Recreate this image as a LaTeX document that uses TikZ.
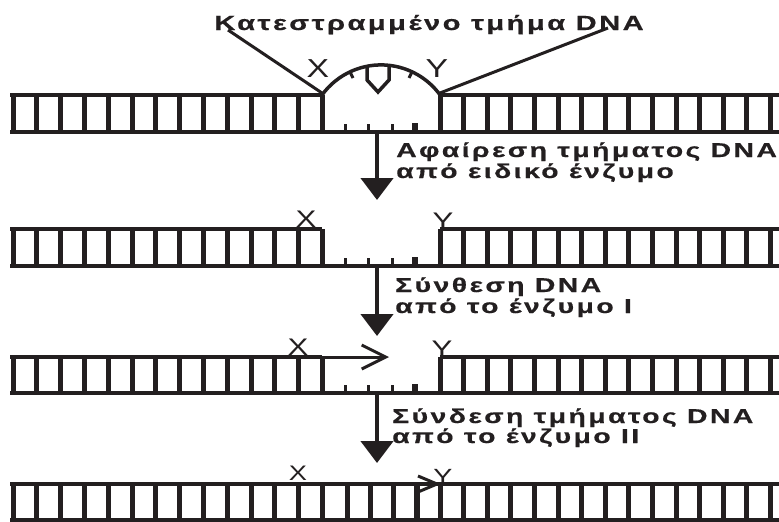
\documentclass[tikz,border=0pt]{standalone}
\usepackage{fontspec}
\setmainfont{Liberation Sans}
\newfontfamily\capfont{Liberation Sans}[UprightFont=* Bold, FakeStretch=1.42, LetterSpace=12, FakeBold=0.5]
\newfontfamily\markfont{Liberation Sans}[FakeStretch=1.3]
\usetikzlibrary{arrows.meta}
\definecolor{ink}{RGB}{35,31,32}

% rungs of a ladder between the strands at #1 (top) and #2 (bottom)
\newcommand\leftrungs[2]{\foreach \k in {0,...,13} \draw[rung] ({13+23.8*\k},#1) -- ({13+23.8*\k},#2);}
\newcommand\rightrungs[2]{\foreach \k in {0,...,14} \draw[rung] ({440+23.6*\k},#1) -- ({440+23.6*\k},#2);}
\newcommand\nicks[1]{%
  \foreach \x in {345,368,392} \draw[nick] (\x,#1) -- (\x,#1-8);
  \draw[nick, line width=5.5pt] (415,#1) -- (415,#1-9);}

\begin{document}
\begin{tikzpicture}[x=1pt, y=-1pt,
  strand/.style={draw=ink, line width=4.5pt},
  rung/.style={draw=ink, line width=5pt},
  nick/.style={draw=ink, line width=3pt},
  pointer/.style={draw=ink, line width=3pt},
  loop/.style={draw=ink, line width=3.5pt},
  stepflow/.style={draw=ink, line width=4.5pt, -{Triangle[length=22pt,width=32pt]}},
  newdna/.style={draw=ink, line width=3pt, -{Straight Barb[length=24pt,width=24pt]}},
  caption/.style={inner sep=0pt, text=ink, font=\capfont\fontsize{20}{22}\selectfont, anchor=base west},
  heading/.style={inner sep=0pt, text=ink, font=\capfont\fontsize{20.5}{23}\selectfont, anchor=base},
  endmark/.style={inner sep=0pt, text=ink, font=\markfont\fontsize{24}{26}\selectfont, anchor=base},
]
\useasboundingbox (0,0) rectangle (779,522);

% ---------- damaged DNA ----------
\draw[strand] (10,95) -- (322,95);
\draw[strand] (440,95) -- (779,95);
\draw[strand] (10,132) -- (779,132);
\leftrungs{95}{132}
\rightrungs{95}{132}
\nicks{132}
\draw[loop] (322,95) arc[start angle=216, end angle=324, radius=73];
\draw[nick] (350,72) -- (353,78);
\draw[nick] (412,72) -- (409,78);
\draw[loop] (367,66) -- (367,80) -- (378,92) -- (389,80) -- (389,66);
\node[heading] (title) at (429,30) {Κατεστραμμένο τμήμα DNA};
\coordinate (pl) at (228,30);
\coordinate (pr) at (608,28);
\coordinate (footl) at (322,93);
\coordinate (footr) at (440,93);
\draw[pointer] (pl) -- (footl);
\draw[pointer] (pr) -- (footr);
\node[endmark, font=\markfont\fontsize{26}{28}\selectfont] (x1) at (318,77) {X};
\node[endmark, font=\markfont\fontsize{26}{28}\selectfont] (y1) at (437,77) {Y};

% ---------- step 1 ----------
\coordinate (s1a) at (377,132);
\coordinate (s1b) at (377,200);
\draw[stepflow] (s1a) -- (s1b);
\node[caption] (c1a) at (396,157) {Αφαίρεση τμήματος DNA};
\node[caption] (c1b) at (396,178) {από ειδικό ένζυμο};

% ---------- gapped DNA ----------
\draw[strand] (10,229) -- (322,229);
\draw[strand] (440,229) -- (779,229);
\draw[strand] (10,266) -- (779,266);
\leftrungs{229}{266}
\rightrungs{229}{266}
\nicks{266}
\node[endmark] (x2) at (306,227) {X};
\node[endmark] (y2) at (443,229) {Y};

% ---------- step 2 ----------
\coordinate (s2a) at (377,266);
\coordinate (s2b) at (377,336);
\draw[stepflow] (s2a) -- (s2b);
\node[caption] (c2a) at (395,292) {Σύνθεση DNA};
\node[caption] (c2b) at (395,313) {από το ένζυμο I};

% ---------- gap being filled ----------
\draw[strand] (10,357) -- (322,357);
\draw[strand] (440,357) -- (779,357);
\draw[strand] (10,393) -- (779,393);
\leftrungs{357}{393}
\rightrungs{357}{393}
\nicks{393}
\coordinate (n3a) at (322,357);
\coordinate (n3b) at (389,357);
\draw[newdna] (n3a) -- (n3b);
\node[endmark] (x3) at (298,355) {X};
\node[endmark] (y3) at (442,357) {Y};

% ---------- step 3 ----------
\coordinate (s3a) at (377,393);
\coordinate (s3b) at (377,463);
\draw[stepflow] (s3a) -- (s3b);
\node[caption] (c3a) at (392,423) {Σύνδεση τμήματος DNA};
\node[caption] (c3b) at (392,443) {από το ένζυμο II};

% ---------- repaired DNA ----------
\draw[strand] (10,484) -- (779,484);
\draw[strand] (10,520) -- (779,520);
\leftrungs{484}{520}
\rightrungs{484}{520}
\foreach \x in {347,370,393} \draw[rung] (\x,484) -- (\x,520);
\draw[rung, line width=5.5pt] (417,484) -- (417,520);
\draw[draw=ink, line width=3pt] (418,476) -- (437,484) -- (418,492);
\node[endmark, font=\markfont\fontsize{21}{23}\selectfont] (x4) at (298,480) {X};
\node[endmark, font=\markfont\fontsize{22}{24}\selectfont] (y4) at (443,484) {Y};
\end{tikzpicture}
\end{document}
